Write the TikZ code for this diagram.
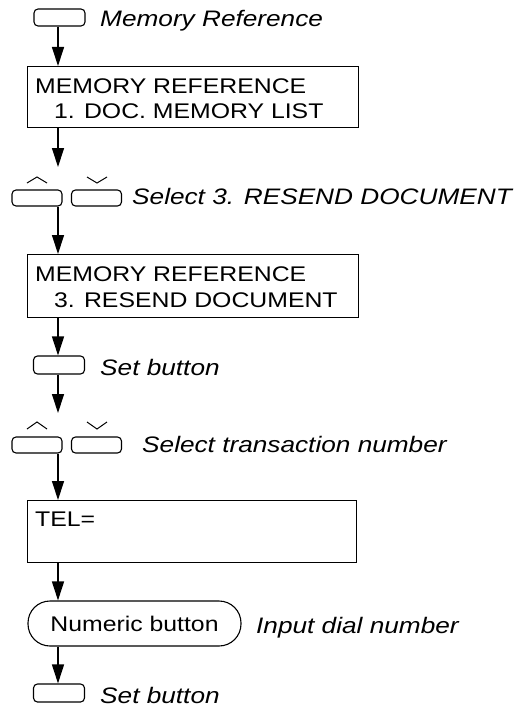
\documentclass[tikz,border=0pt]{standalone}
\usepackage{fontspec}
\setmainfont{Liberation Sans}[FakeStretch=1.17]
\usepackage{tikz}
\usetikzlibrary{arrows.meta}

\tikzset{
	lcd/.style={draw, line width=1.3pt, anchor=north west, inner sep=0pt},
	key/.style={draw, line width=1.1pt, rounded corners=4pt, inner sep=0pt, minimum width=51pt, minimum height=17pt},
	numkey/.style={draw, line width=1.1pt, rounded corners=22pt, inner sep=0pt, minimum width=213pt, minimum height=45pt, font=\fontsize{21.2}{25}\selectfont},
	lcdtext/.style={anchor=base west, inner sep=0pt, font=\fontsize{21.2}{25}\selectfont},
	hint/.style={anchor=base west, inner sep=0pt, font=\fontsize{22.4}{26}\selectfont\itshape},
	caret/.style={line width=1pt, line join=miter},
	flow/.style={line width=1.2pt, -{Triangle[length=19pt,width=12pt]}}
}

\begin{document}
\begin{tikzpicture}[x=1pt,y=-1pt]
				\useasboundingbox (0,0) rectangle (526,709);
				\coordinate (spine) at (58,0);
				
				% step 1
				\node[key] (set0) at (59.5,17.5) {};
				\node[hint] (t0) at (100,27) {Memory Reference};
				
				\node[lcd, minimum width=331pt, minimum height=61pt] (m1) at (27,66) {};
				\node[lcdtext] (m1a) at (35,93) {MEMORY REFERENCE};
				\node[lcdtext] (m1b) at (54,118) {1. DOC. MEMORY LIST};
				
				% step 2
				\coordinate (in1) at (58,167);
				\draw[caret] (27,183) -- (37,177) -- (47,183);
				\draw[caret] (87,177) -- (97,183) -- (107,177);
				\node[key, minimum width=50pt, minimum height=16pt] (up1) at (37,198) {};
				\node[key, minimum width=50pt, minimum height=16pt] (dn1) at (96.5,198) {};
				\node[hint] (t1) at (132,204) {Select 3. RESEND DOCUMENT};
				
				\node[lcd, minimum width=331pt, minimum height=63pt] (m2) at (27,254) {};
				\node[lcdtext] (m2a) at (35,281) {MEMORY REFERENCE};
				\node[lcdtext] (m2b) at (54,307) {3. RESEND DOCUMENT};
				
				% step 3
				\node[key, minimum height=18pt] (set1) at (59,365) {};
				\node[hint] (t2) at (100,375) {Set button};
				
				\coordinate (in2) at (58,413);
				\draw[caret] (27,429) -- (37,422) -- (47,429);
				\draw[caret] (87,422) -- (97,429) -- (107,422);
				\node[key, minimum width=50pt, minimum height=16pt] (up2) at (37,445) {};
				\node[key, minimum width=50pt, minimum height=16pt] (dn2) at (96.5,445) {};
				\node[hint] (t3) at (142,452) {Select transaction number};
				
				\node[lcd, minimum width=329pt, minimum height=62pt] (tel) at (27,500) {};
				\node[lcdtext] (tela) at (35,526) {TEL=};
				
				% step 4
				\node[numkey] (num) at (134.5,623.5) {Numeric button};
				\node[hint] (t4) at (256,633) {Input dial number};
				
				\node[key, minimum height=18pt] (set2) at (59,693) {};
				\node[hint] (t5) at (100,703) {Set button};
				
				% arrows
				\draw[flow] (set0.south -| spine) -- (m1.north -| spine);
				\draw[flow] (m1.south -| spine) -- (in1);
				\draw[flow] (up1.south -| spine) -- (m2.north -| spine);
				\draw[flow] (m2.south -| spine) -- (set1.north -| spine);
				\draw[flow] (set1.south -| spine) -- (in2);
				\draw[flow] (up2.south -| spine) -- (tel.north -| spine);
				\draw[flow] (tel.south -| spine) -- (num.north -| spine);
				\draw[flow] (num.south -| spine) -- (set2.north -| spine);
\end{tikzpicture}
\end{document}
